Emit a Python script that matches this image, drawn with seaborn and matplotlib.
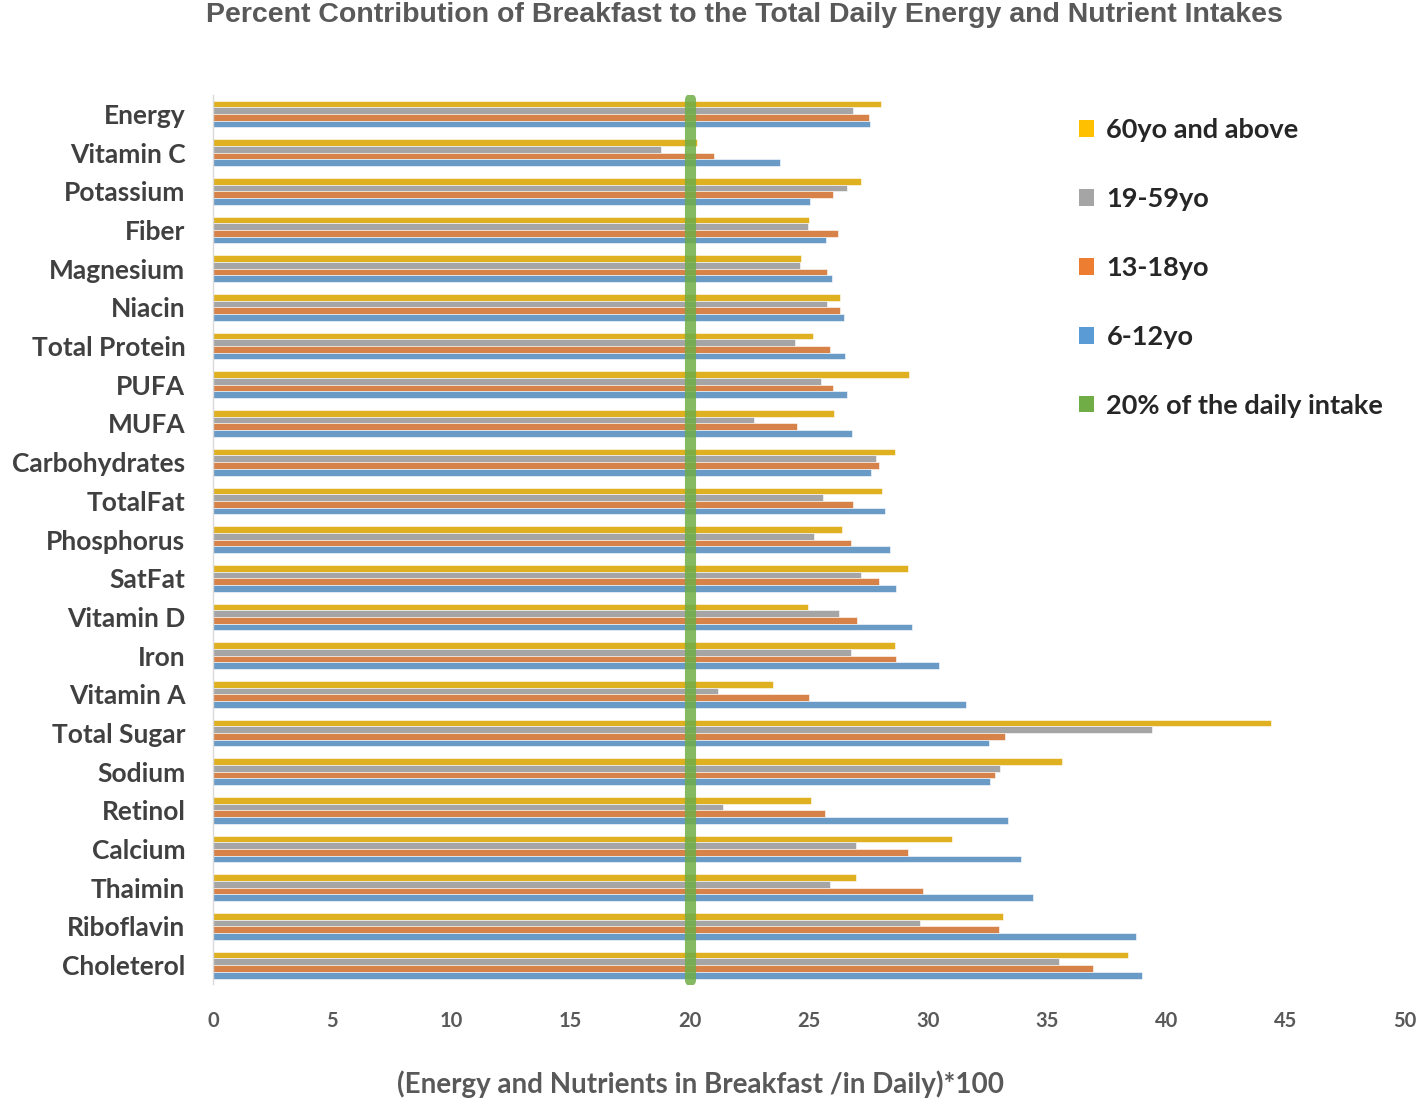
import pandas as pd
import matplotlib
matplotlib.use("Agg")
import matplotlib.pyplot as plt
from matplotlib.patches import Patch
import seaborn as sns

sns.set_style("white")
plt.rcParams['font.family'] = ['Lato', 'DejaVu Sans']

# 영양소 목록 (위에서 아래 순서)
nutrients = ["Energy", "Vitamin C", "Potassium", "Fiber", "Magnesium", "Niacin",
             "Total Protein", "PUFA", "MUFA", "Carbohydrates", "TotalFat",
             "Phosphorus", "SatFat", "Vitamin D", "Iron", "Vitamin A",
             "Total Sugar", "Sodium", "Retinol", "Calcium", "Thaimin",
             "Riboflavin", "Choleterol"]

age_60_above = [28.0, 20.3, 27.2, 25.0, 24.65, 26.3, 25.15, 29.2, 26.05, 28.6, 28.05,
                26.4, 29.15, 24.95, 28.6, 23.5, 44.4, 35.6, 25.1, 31.0, 26.95, 33.15, 38.4]
age_19_59 = [26.85, 18.8, 26.6, 24.95, 24.6, 25.75, 24.4, 25.5, 22.7, 27.8, 25.6,
             25.2, 27.2, 26.25, 26.75, 21.2, 39.4, 33.0, 21.4, 26.95, 25.9, 29.65, 35.5]
age_13_18 = [27.5, 21.0, 26.0, 26.2, 25.75, 26.3, 25.9, 26.0, 24.5, 27.95, 26.85,
             26.75, 27.95, 27.0, 28.65, 25.0, 33.2, 32.8, 25.65, 29.15, 29.8, 32.95, 36.9]
age_6_12 = [27.55, 23.8, 25.05, 25.7, 25.95, 26.45, 26.5, 26.6, 26.8, 27.6, 28.2,
            28.4, 28.65, 29.3, 30.45, 31.6, 32.55, 32.6, 33.35, 33.9, 34.4, 38.7, 38.95]

groups = ["60yo and above", "19-59yo", "13-18yo", "6-12yo"]
colors = ["#FFC000", "#A5A5A5", "#ED7D31", "#5B9BD5"]
ref_value = 20
ref_label = "20% of the daily intake"

df = pd.DataFrame({"nutrient": nutrients,
                   groups[0]: age_60_above,
                   groups[1]: age_19_59,
                   groups[2]: age_13_18,
                   groups[3]: age_6_12})
long_df = df.melt(id_vars="nutrient", var_name="group", value_name="pct")

fig = plt.figure(figsize=(14.21, 11), dpi=100)
ax = fig.add_axes([0.150, 0.105, 0.8387, 0.809])

sns.barplot(data=long_df, x="pct", y="nutrient", hue="group", hue_order=groups,
            palette=colors, orient="h", width=0.69, edgecolor="white",
            linewidth=0.4, errorbar=None, legend=False, ax=ax)

ax.axvline(ref_value, color="#70AD47", linewidth=8, alpha=0.85, zorder=5,
           ymin=0.005, ymax=0.995)

ax.set_xlim(0, 50)
ax.set_xticks(range(0, 51, 5))
ax.set_xlabel("")
ax.set_ylabel("")
ax.tick_params(axis="both", length=0)
ax.tick_params(axis="x", pad=19)
ax.tick_params(axis="y", pad=20)
for lab in ax.get_xticklabels():
    lab.set_fontsize(14.5)
    lab.set_fontweight("bold")
    lab.set_color("#595959")
for lab in ax.get_yticklabels():
    lab.set_fontsize(19)
    lab.set_fontweight("bold")
    lab.set_color("#404040")

for side in ["top", "right", "bottom"]:
    ax.spines[side].set_visible(False)
ax.spines["left"].set_color("#D9D9D9")
ax.spines["left"].set_linewidth(1)

handles = [Patch(facecolor=c, edgecolor="none") for c in colors]
handles.append(Patch(facecolor="#70AD47", edgecolor="none"))
fig.legend(handles, groups + [ref_label], loc="upper left",
           bbox_to_anchor=(0.742, 0.915), frameon=False,
           prop={"size": 19.5, "weight": "bold"}, labelspacing=1.66,
           handlelength=0.57, handleheight=0.57, handletextpad=0.45)

fig.text(0.524, 0.986, "Percent Contribution of Breakfast to the Total Daily Energy and Nutrient Intakes",
         ha="center", va="center", fontsize=20.5, fontweight="bold", color="#595959",
         family=["Liberation Sans Narrow", "Liberation Sans", "DejaVu Sans"])
fig.text(0.493, 0.014, "(Energy and Nutrients in Breakfast /in Daily)*100",
         ha="center", va="center", fontsize=20, fontweight="bold", color="#595959")

fig.savefig("out.png", dpi=100)
plt.close()
